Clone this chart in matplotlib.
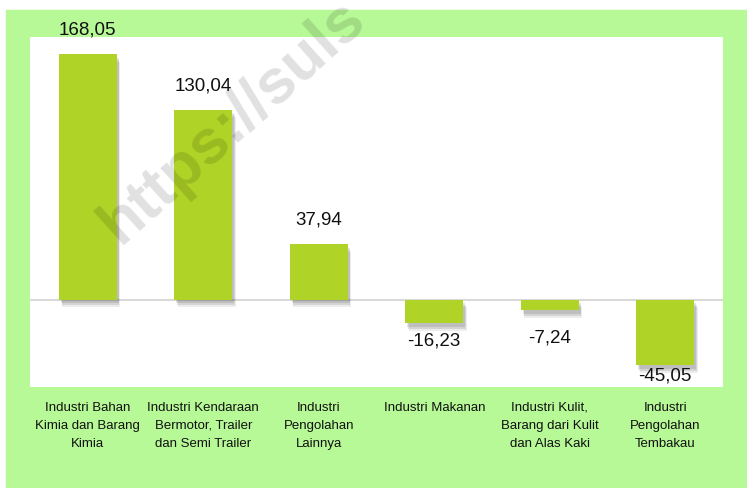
import matplotlib
matplotlib.use("Agg")
import matplotlib.pyplot as plt
import matplotlib.patheffects as pe
from matplotlib.patches import Rectangle

categories = [
    "Industri Bahan\nKimia dan Barang\nKimia",
    "Industri Kendaraan\nBermotor, Trailer\ndan Semi Trailer",
    "Industri\nPengolahan\nLainnya",
    "Industri Makanan",
    "Industri Kulit,\nBarang dari Kulit\ndan Alas Kaki",
    "Industri\nPengolahan\nTembakau",
]
values = [168.05, 130.04, 37.94, -16.23, -7.24, -45.05]
value_labels = ["168,05", "130,04", "37,94", "-16,23", "-7,24", "-45,05"]

# label offsets (points) from the bar end, as placed in the original
label_offsets = [12, 12, 12, -6, -13, -1]

bg_green = "#b7f996"
bar_green = "#afd326"
plt.rcParams["font.family"] = ["Liberation Sans", "DejaVu Sans"]

W, H = 747, 489
fig = plt.figure(figsize=(W / 100, H / 100), dpi=100, facecolor="white")
fig.patches.append(Rectangle((6 / W, 1 / H), 1 - 6 / W, (H - 12) / H,
                             transform=fig.transFigure, color=bg_green, zorder=-10))

ax = fig.add_axes([30 / W, (H - 388) / H, 693 / W, 350 / H])
ax.set_facecolor("white")
x = list(range(len(values)))

shadow = [
    pe.SimplePatchShadow(offset=(1.5, -2.5), shadow_rgbFace="k", alpha=0.10),
    pe.SimplePatchShadow(offset=(2, -4), shadow_rgbFace="k", alpha=0.10),
    pe.SimplePatchShadow(offset=(2.5, -5.5), shadow_rgbFace="k", alpha=0.07),
    pe.Normal(),
]
bars = ax.bar(x, values, width=0.5, color=bar_green, zorder=3)
for b in bars:
    b.set_path_effects(shadow)

ax.axhline(0, color="#d9d9d9", lw=1.5, zorder=2)
ax.set_xlim(-0.5, len(values) - 0.5)
ax.set_ylim(-60, 180)

for xi, v, lab, off in zip(x, values, value_labels, label_offsets):
    ax.annotate(lab, (xi, v), xytext=(0, off), textcoords="offset points",
                ha="center", va="bottom" if off > 0 else "top",
                fontsize=13.5, color="#111111", zorder=5)

ax.set_xticks(x)
ax.set_xticklabels(categories, fontsize=9.5, color="#111111", linespacing=1.65)
ax.tick_params(axis="x", length=0, pad=10)
ax.set_yticks([])
for s in ax.spines.values():
    s.set_visible(False)

# watermark
fig.text(120 / W, (H - 245) / H, "https://suls", fontsize=45,
         fontweight="bold", color="black", alpha=0.12, rotation=42,
         rotation_mode="anchor", ha="left", va="baseline", zorder=10)

fig.savefig("out.png", dpi=100, facecolor="white")
